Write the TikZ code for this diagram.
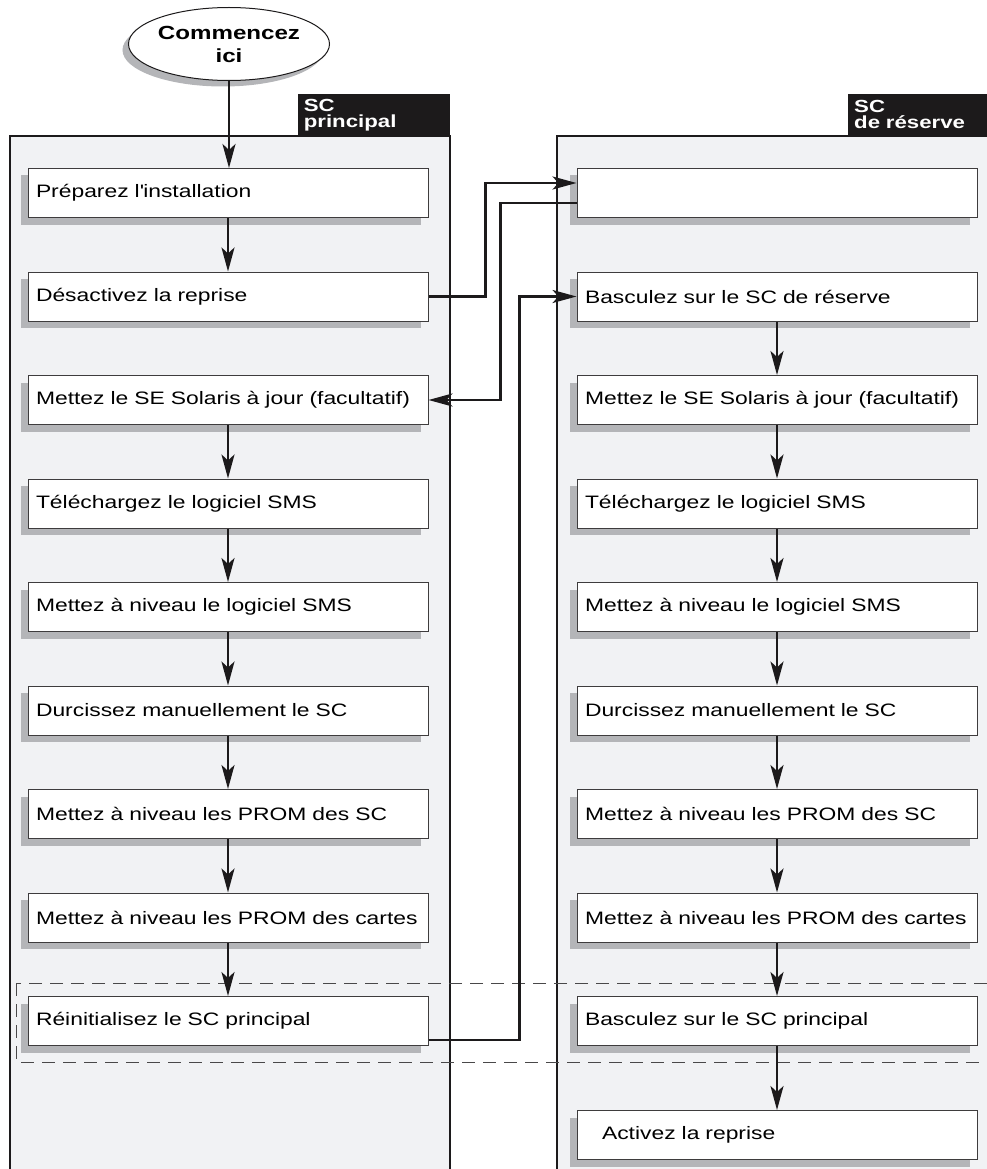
\documentclass[tikz,border=0pt]{standalone}
\usepackage{fontspec}
\setmainfont{Liberation Sans}[FakeStretch=1.27]
\usetikzlibrary{arrows.meta,positioning,shapes.geometric,shadows}

\definecolor{lanefill}{HTML}{F1F2F4}
\definecolor{shadowgray}{HTML}{B4B5B8}
\definecolor{ink}{HTML}{1C1A1B}

\begin{document}
\begin{tikzpicture}[
    x=1pt, y=-1pt,
    font=\fontsize{18}{21}\selectfont,
    node distance=53.5pt,
    lane/.style={draw=ink, line width=1.8pt, fill=lanefill},
    tab/.style={fill=ink, text=white, font=\bfseries\fontsize{17.5}{16}\selectfont, align=left, inner xsep=6pt, inner ysep=0pt, minimum height=42pt},
    box/.style={draw=ink!85, line width=1pt, fill=white, minimum height=49pt, text width=384pt, inner xsep=8pt, inner ysep=0pt, align=left, drop shadow={shadow xshift=-7pt, shadow yshift=-7pt, fill=shadowgray, opacity=1}},
    start/.style={ellipse, draw=ink, line width=1pt, fill=white, minimum width=162pt, minimum height=73pt, inner sep=0pt, align=center, font=\bfseries\fontsize{19}{23}\selectfont, drop shadow={shadow xshift=-6pt, shadow yshift=-6pt, fill=shadowgray, opacity=1}},
    flow/.style={-{Stealth[length=24pt,width=13pt,inset=6pt]}, line width=2.6pt, draw=ink},
    zone/.style={draw=ink!80, line width=0.9pt, dash pattern=on 13pt off 8pt}
  ]
  \useasboundingbox (0,0) rectangle (987,1169);
  \clip (0,0) rectangle (987,1169);

  % Swim lanes
  \draw[lane] (10,136) rectangle (450,1190);
  \draw[lane] (557,136) rectangle (1000,1190);
  \node[tab, text width=140pt, anchor=south east] (tabP) at (450,136) {SC\\principal};
  \node[tab, text width=150pt, anchor=south west] (tabR) at (848,136) {SC\\de réserve};

  % Reboot zone
  \draw[zone] (16,983) rectangle (1000,1062);

  \node[start] (debut) at (229,44) {Commencez\\ici};

  % SC principal
  \node[box] (prep) at (228,193) {Préparez l\textquotesingle installation};
  \node[box, below=of prep] (desact) {Désactivez la reprise};
  \node[box, below=of desact] (solP) {Mettez le SE Solaris à jour (facultatif)};
  \node[box, below=of solP] (telP) {Téléchargez le logiciel SMS};
  \node[box, below=of telP] (smsP) {Mettez à niveau le logiciel SMS};
  \node[box, below=of smsP] (durP) {Durcissez manuellement le SC};
  \node[box, below=of durP] (promP) {Mettez à niveau les PROM des SC};
  \node[box, below=of promP] (cartP) {Mettez à niveau les PROM des cartes};
  \node[box, below=of cartP] (reinit) {Réinitialisez le SC principal};

  % SC de reserve
  \node[box] (vide) at (777,193) {};
  \node[box, below=of vide] (bascR) {Basculez sur le SC de réserve};
  \node[box, below=of bascR] (solR) {Mettez le SE Solaris à jour (facultatif)};
  \node[box, below=of solR] (telR) {Téléchargez le logiciel SMS};
  \node[box, below=of telR] (smsR) {Mettez à niveau le logiciel SMS};
  \node[box, below=of smsR] (durR) {Durcissez manuellement le SC};
  \node[box, below=of durR] (promR) {Mettez à niveau les PROM des SC};
  \node[box, below=of promR] (cartR) {Mettez à niveau les PROM des cartes};
  \node[box, below=of cartR] (bascP) {Basculez sur le SC principal};
  \node[box, below=64pt of bascP] (activ) {\hspace*{17pt}Activez la reprise};

  % Main flows
  \draw[flow] (debut.south) -- (debut.south |- prep.north);
  \draw[flow] (prep) -- (desact);
  \draw[flow] (solP) -- (telP);
  \draw[flow] (telP) -- (smsP);
  \draw[flow] (smsP) -- (durP);
  \draw[flow] (durP) -- (promP);
  \draw[flow] (promP) -- (cartP);
  \draw[flow] (cartP) -- (reinit);

  \draw[flow] (bascR) -- (solR);
  \draw[flow] (solR) -- (telR);
  \draw[flow] (telR) -- (smsR);
  \draw[flow] (smsR) -- (durR);
  \draw[flow] (durR) -- (promR);
  \draw[flow] (promR) -- (cartR);
  \draw[flow] (cartR) -- (bascP);
  \draw[flow] (bascP) -- (activ);

  % Between the two SC
  \draw[flow] (desact.east) -- ++(57,0) |- ([yshift=10pt]vide.west);
  \draw[flow] ([yshift=-10pt]vide.west) -- ++(-76,0) |- (solP.east);
  \draw[flow] ([yshift=-19pt]reinit.east) -- ++(91,0) |- (bascR.west);

\end{tikzpicture}
\end{document}
